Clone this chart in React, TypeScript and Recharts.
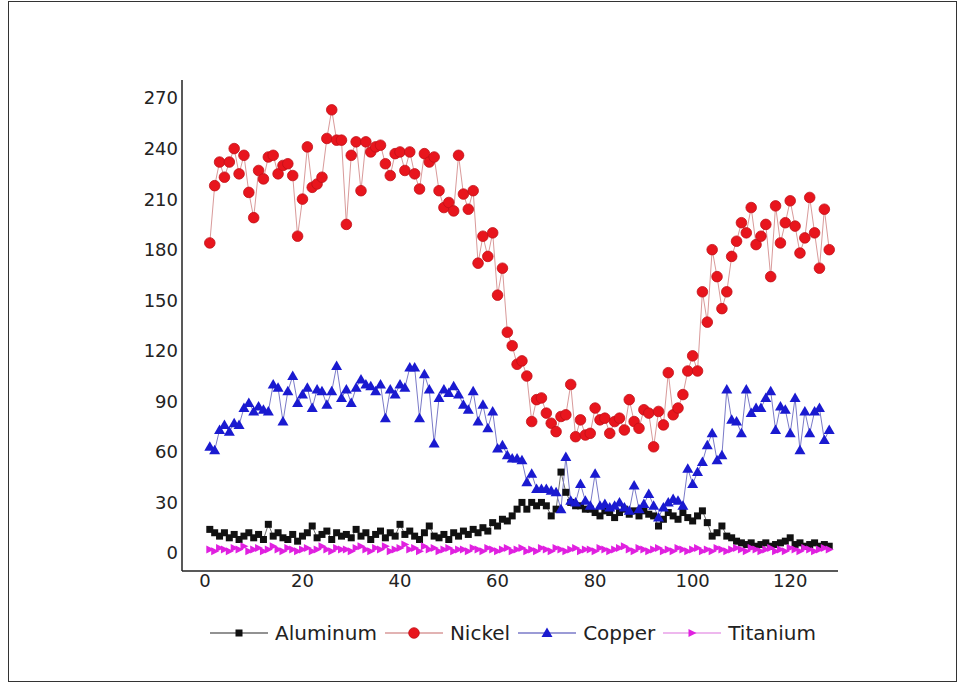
import React from 'react';
import { LineChart, Line, XAxis, YAxis, Legend } from 'recharts';

const seriesNames = ['Aluminum', 'Nickel', 'Copper', 'Titanium'];

const aluminum = [
  14, 12, 10, 12, 9, 11, 8, 10, 12, 9, 11, 8, 17, 10, 12, 9,
  8, 11, 7, 10, 12, 16, 9, 11, 13, 8, 12, 10, 11, 9, 14, 10,
  12, 8, 11, 13, 9, 12, 10, 17, 11, 13, 10, 8, 12, 16, 10, 9,
  11, 8, 12, 10, 13, 11, 14, 12, 15, 13, 18, 16, 20, 19, 22, 26,
  30, 26, 30, 28, 30, 28, 22, 26, 48, 36, 30, 28, 28, 26, 26, 24,
  22, 25, 24, 21, 24, 26, 23, 25, 22, 25, 23, 22, 16, 20, 24, 22,
  20, 24, 21, 19, 22, 25, 18, 10, 12, 16, 10, 9, 7, 6, 5, 6,
  4, 5, 6, 4, 5, 6, 7, 9, 5, 6, 4, 5, 6, 4, 5, 4,
];

const nickel = [
  184, 218, 232, 223, 232, 240, 225, 236, 214, 199, 227, 222, 235, 236, 225, 230,
  231, 224, 188, 210, 241, 217, 219, 223, 246, 263, 245, 245, 195, 236, 244, 215,
  244, 238, 241, 242, 231, 224, 237, 238, 227, 238, 225, 216, 237, 232, 235, 215,
  205, 208, 203, 236, 213, 204, 215, 172, 188, 176, 190, 153, 169, 131, 123, 112,
  114, 105, 78, 91, 92, 83, 77, 72, 81, 82, 100, 69, 79, 70, 71, 86,
  79, 80, 71, 78, 80, 73, 91, 78, 74, 85, 83, 63, 84, 76, 107, 82,
  86, 94, 108, 117, 108, 155, 137, 180, 164, 145, 155, 176, 185, 196, 190, 205,
  183, 188, 195, 164, 206, 184, 196, 209, 194, 178, 187, 211, 190, 169, 204, 180,
];

const copper = [
  63, 61, 73, 76, 72, 77, 76, 86, 89, 84, 87, 85, 84, 100, 98, 78,
  96, 105, 89, 94, 98, 86, 97, 96, 88, 96, 111, 92, 97, 89, 98, 103,
  100, 99, 96, 100, 80, 97, 94, 100, 98, 110, 110, 80, 106, 97, 65, 92,
  97, 95, 99, 94, 88, 85, 96, 78, 88, 74, 84, 62, 64, 58, 56, 56,
  55, 42, 47, 38, 38, 38, 37, 36, 26, 57, 31, 30, 41, 31, 28, 47,
  28, 29, 27, 28, 30, 27, 25, 40, 26, 29, 35, 28, 21, 27, 30, 32,
  31, 28, 50, 41, 48, 54, 64, 71, 55, 58, 97, 79, 78, 71, 97, 83,
  86, 86, 92, 96, 73, 87, 85, 71, 92, 61, 84, 71, 84, 86, 67, 73,
];

const titanium = [
  2, 1, 3, 2, 1, 3, 2, 4, 1, 2, 3, 1, 2, 4, 2, 1,
  3, 2, 1, 2, 3, 1, 2, 4, 2, 1, 3, 2, 2, 1, 3, 4,
  2, 1, 3, 2, 4, 1, 2, 3, 5, 2, 3, 1, 4, 2, 3, 1,
  2, 3, 1, 2, 2, 1, 3, 2, 1, 3, 2, 1, 2, 3, 1, 2,
  3, 1, 2, 1, 3, 2, 1, 3, 2, 1, 2, 3, 1, 2, 2, 1,
  3, 2, 1, 2, 3, 4, 2, 1, 3, 2, 1, 2, 3, 1, 2, 1,
  3, 2, 1, 2, 3, 1, 2, 1, 3, 2, 1, 2, 3, 2, 1, 3,
  2, 1, 2, 3, 1, 2, 1, 3, 2, 1, 3, 2, 1, 2, 3, 2,
];

const xTicks = [0, 20, 40, 60, 80, 100, 120];
const yTicks = [0, 30, 60, 90, 120, 150, 180, 210, 240, 270];

const data = nickel.map((_, i) => ({
  x: i + 1,
  Aluminum: aluminum[i],
  Nickel: nickel[i],
  Copper: copper[i],
  Titanium: titanium[i],
}));

const FONT = '"DejaVu Sans", sans-serif';

const styles: Record<string, { fill: string; line: string }> = {
  Aluminum: { fill: '#111111', line: '#6e6e6e' },
  Nickel: { fill: '#e8151d', line: '#d99a9a' },
  Copper: { fill: '#1a1ad0', line: '#7a7ac8' },
  Titanium: { fill: '#e020e0', line: '#e8a0e8' },
};

function marker(name: string, cx: number, cy: number, key?: any) {
  const c = styles[name].fill;
  if (name === 'Aluminum') {
    return <rect key={key} x={cx - 3.5} y={cy - 3.5} width={7} height={7} fill={c} />;
  }
  if (name === 'Nickel') {
    return <circle key={key} cx={cx} cy={cy} r={5.3} fill={c} stroke="#c01018" strokeWidth={0.8} />;
  }
  if (name === 'Copper') {
    return (
      <polygon
        key={key}
        points={`${cx},${cy - 5.5} ${cx + 5.5},${cy + 4} ${cx - 5.5},${cy + 4}`}
        fill={c}
      />
    );
  }
  return (
    <polygon
      key={key}
      points={`${cx + 4.5},${cy} ${cx - 3.5},${cy - 4} ${cx - 3.5},${cy + 4}`}
      fill={c}
    />
  );
}

const makeDot = (name: string) => (props: any) => {
  const { cx, cy, index } = props;
  if (cx == null || cy == null) return <g key={`e-${name}-${index}`} />;
  return marker(name, cx, cy, `${name}-${index}`);
};

const LegendContent = () => (
  <div
    style={{
      display: 'flex',
      justifyContent: 'center',
      alignItems: 'center',
      fontFamily: FONT,
      fontSize: 20,
      color: '#222',
    }}
  >
    {seriesNames.map((n) => (
      <div key={n} style={{ display: 'flex', alignItems: 'center', margin: '0 4px' }}>
        <svg width={58} height={16}>
          <line x1={0} y1={8} x2={58} y2={8} stroke={styles[n].line} strokeWidth={1.5} />
          {marker(n, 29, 8)}
        </svg>
        <span style={{ marginLeft: 7 }}>{n}</span>
      </div>
    ))}
  </div>
);

export default function App() {
  return (
    <div style={{ position: 'absolute', left: 0, top: 0, width: 966, height: 686, background: '#fff' }}>
      <div
        style={{
          position: 'absolute',
          left: 8,
          top: 1,
          width: 949,
          height: 681,
          border: '1px solid #333',
          boxSizing: 'border-box',
        }}
      />
      <div style={{ position: 'absolute', left: 0, top: 0 }}>
        <LineChart
          width={966}
          height={686}
          data={data}
          margin={{ top: 80, right: 128, left: 122, bottom: 85 }}
        >
          <XAxis
            type="number"
            dataKey="x"
            domain={[-4.7, 129.8]}
            ticks={xTicks}
            allowDataOverflow
            interval={0}
            tickLine={false}
            tickSize={2}
            tickMargin={1}
            stroke="#222"
            strokeWidth={1.5}
            tick={{ fill: '#222', fontSize: 18, fontFamily: FONT }}
            height={30}
          />
          <YAxis
            type="number"
            domain={[-10.7, 280.7]}
            ticks={yTicks}
            allowDataOverflow
            interval={0}
            tickLine={false}
            tickSize={2}
            tickMargin={2}
            stroke="#222"
            strokeWidth={1.5}
            tick={{ fill: '#222', fontSize: 18, fontFamily: FONT }}
            width={60}
          />
          <Legend
            layout="horizontal"
            verticalAlign="middle"
            align="center"
            content={LegendContent}
            wrapperStyle={{ top: 621, left: 30, width: 966 }}
          />
          {seriesNames.map((n) => (
            <Line
              key={n}
              type="linear"
              dataKey={n}
              stroke={styles[n].line}
              strokeWidth={1}
              dot={makeDot(n)}
              activeDot={false}
              isAnimationActive={false}
            />
          ))}
        </LineChart>
      </div>
    </div>
  );
}
